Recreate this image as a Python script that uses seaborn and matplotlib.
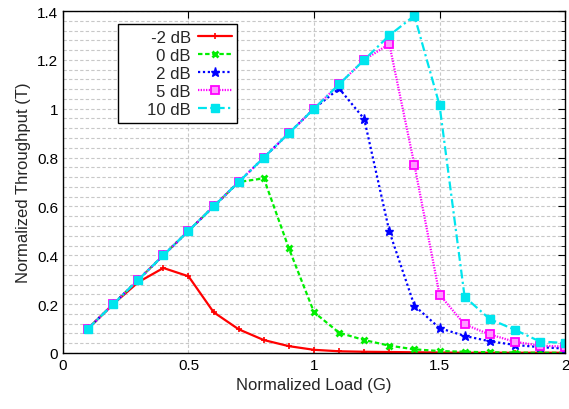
import numpy as np
import matplotlib
matplotlib.use('Agg')
import matplotlib.pyplot as plt
import seaborn as sns
from matplotlib.ticker import MultipleLocator

# Normalized load G
load = [0.1, 0.2, 0.3, 0.4, 0.5, 0.6, 0.7, 0.8, 0.9, 1.0,
        1.1, 1.2, 1.3, 1.4, 1.5, 1.6, 1.7, 1.8, 1.9, 2.0]

thr_m2 = [0.10, 0.20, 0.29, 0.348, 0.314, 0.167, 0.097, 0.053, 0.028, 0.013,
          0.007, 0.005, 0.004, 0.003, 0.002, 0.001, 0.001, 0.001, 0.001, 0.001]
thr_0 = [0.10, 0.20, 0.30, 0.40, 0.50, 0.60, 0.70, 0.715, 0.428, 0.167,
         0.083, 0.053, 0.030, 0.015, 0.008, 0.005, 0.003, 0.002, 0.001, 0.001]
thr_2 = [0.10, 0.20, 0.30, 0.40, 0.50, 0.60, 0.70, 0.80, 0.90, 1.00,
         1.083, 0.958, 0.498, 0.194, 0.102, 0.070, 0.048, 0.033, 0.024, 0.018]
thr_5 = [0.10, 0.20, 0.30, 0.40, 0.50, 0.60, 0.70, 0.80, 0.90, 1.00,
         1.10, 1.20, 1.265, 0.77, 0.239, 0.117, 0.076, 0.046, 0.030, 0.026]
thr_10 = [0.10, 0.20, 0.30, 0.40, 0.50, 0.60, 0.70, 0.80, 0.90, 1.00,
          1.10, 1.20, 1.30, 1.381, 1.015, 0.230, 0.139, 0.095, 0.047, 0.041]

labels = ['-2 dB', '0 dB', '2 dB', '5 dB', '10 dB']

sns.set_style('white')
plt.rcParams['font.family'] = ['Liberation Sans', 'DejaVu Sans']

fig = plt.figure(figsize=(5.69, 4.10), dpi=100)
ax = fig.add_axes([0.1107, 0.1366, 0.8823, 0.8341])

styles = [
    dict(color='#ff0000', marker='+', ms=5, mew=1.2, dashes=None),
    dict(color='#00ee00', marker='x', ms=5, mew=2.0, dashes=(2.0, 1.2)),
    dict(color='#0000ff', marker='*', ms=6.5, mew=1.0, dashes=(1.0, 1.2)),
    dict(color='#ff00ff', marker='s', ms=5.5, mew=1.3, dashes=(0.6, 0.6)),
    dict(color='#00e5ee', marker='s', ms=5.5, mew=1.0, dashes=(4.0, 1.5, 1.0, 1.5)),
]
series = [thr_m2, thr_0, thr_2, thr_5, thr_10]

handles = []
for y, lab, st in zip(series, labels, styles):
    sns.lineplot(x=load, y=y, ax=ax, color=st['color'], label=lab,
                 marker=st['marker'], markersize=st['ms'], markeredgewidth=st['mew'],
                 linewidth=1.6)
    line = ax.lines[-1]
    line.set_markeredgecolor(st['color'])
    if lab == '5 dB':
        line.set_markerfacecolor('#ff99ff')
    else:
        line.set_markerfacecolor(st['color'])
    if st['dashes'] is not None:
        line.set_dashes(st['dashes'])
    handles.append(line)

ax.set_xlim(0, 2)
ax.set_ylim(0, 1.4)
ax.yaxis.set_minor_locator(MultipleLocator(0.04))
ax.set_xticks([0, 0.5, 1, 1.5, 2])
ax.set_xticklabels(['0', '0.5', '1', '1.5', '2'])
ax.set_yticks([0, 0.2, 0.4, 0.6, 0.8, 1.0, 1.2, 1.4])
ax.set_yticklabels(['0', '0.2', '0.4', '0.6', '0.8', '1', '1.2', '1.4'])

ax.grid(True, which='major', axis='x', color='#c8c8c8', linestyle=(0, (3, 2)), linewidth=0.8)
ax.grid(True, which='both', axis='y', color='#c8c8c8', linestyle=(0, (3, 2)), linewidth=0.8)
ax.set_axisbelow(True)

ax.tick_params(which='both', direction='in', top=True, right=True, labelsize=11,
               colors='black')
ax.tick_params(which='major', length=5, width=0.8)
ax.tick_params(which='minor', length=3, width=0.6)
for sp in ax.spines.values():
    sp.set_visible(True)
    sp.set_color('black')
    sp.set_linewidth(1.0)

ax.set_xlabel('Normalized Load (G)', fontsize=12)
ax.set_ylabel('Normalized Throughput (T)', fontsize=12)

# gnuplot-style key: labels right-aligned, samples on the right, wide left margin
leg_labels = ['     ' + lab for lab in labels]
leg = ax.legend(handles, leg_labels, loc='upper left', bbox_to_anchor=(0.11, 0.962),
                borderaxespad=0, markerfirst=False, fancybox=False, edgecolor='black',
                framealpha=1, fontsize=12, handlelength=2.0, handletextpad=0.45,
                labelspacing=0.18, borderpad=0.35)
leg.get_frame().set_linewidth(1.0)

fig.savefig('out.png', dpi=100)
